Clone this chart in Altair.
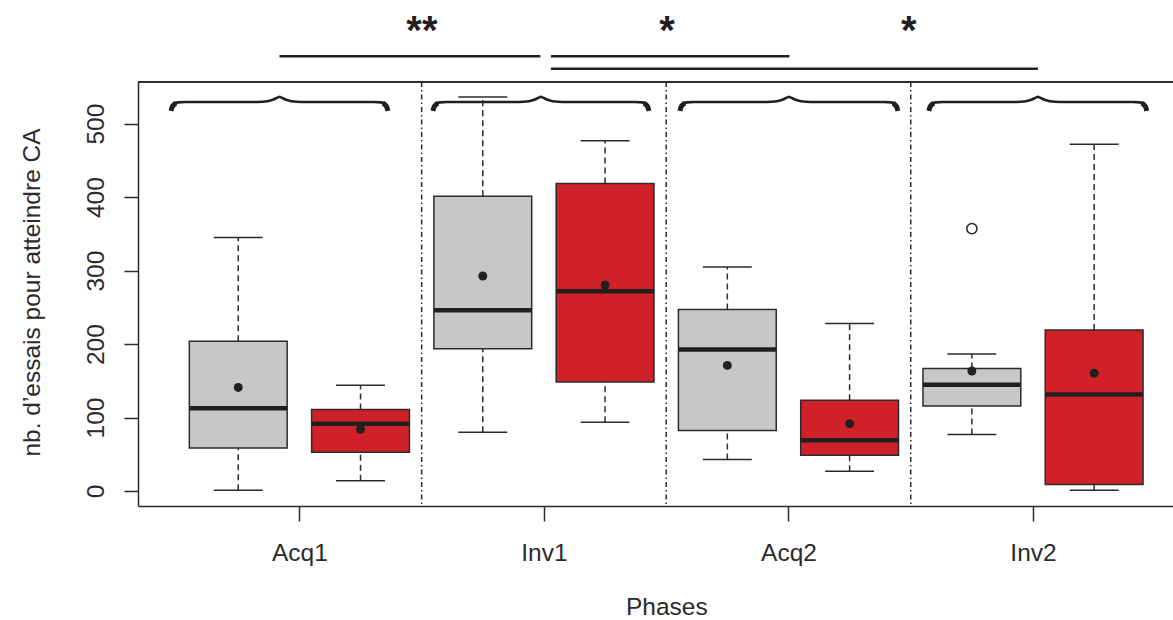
import altair as alt
import pandas as pd

# ---------------- data ----------------
groups = ["Acq1", "Inv1", "Acq2", "Inv2"]
positions = [1, 2, 3, 4, 5, 6, 7, 8]
conditions = ["gris", "rouge", "gris", "rouge", "gris", "rouge", "gris", "rouge"]
lower_whisker = [1.0, 14.0, 80.0, 93.5, 43.0, 27.0, 77.0, 1.0]
q1 = [58.5, 52.7, 193.8, 148.4, 82.2, 48.6, 115.7, 8.7]
medians = [112.6, 91.7, 246.0, 271.8, 192.7, 69.0, 144.8, 131.2]
q3 = [203.8, 110.8, 401.1, 418.4, 247.0, 123.4, 166.6, 219.3]
upper_whisker = [345.0, 143.9, 536.3, 476.9, 305.0, 228.0, 186.5, 471.9]
means = [141.0, 84.0, 292.6, 280.4, 171.0, 91.7, 163.3, 160.2]
outlier_pos = [7]
outlier_val = [357.2]

separators = [2.5, 4.5, 6.5]
group_ticks = [1.5, 3.5, 5.5, 7.5]
y_ticks = [0, 100, 200, 300, 400, 500]

brace_left = [0.450, 2.592, 4.612, 6.648]
brace_tip = [1.337, 3.475, 5.504, 7.540]
brace_right = [2.224, 4.359, 6.395, 8.431]
brace_base = 517.5

sig_start = [1.337, 3.557, 3.557]
sig_end = [3.471, 5.508, 7.540]
sig_level = [591.7, 591.7, 574.9]
star_x = [2.502, 4.506, 6.485]
star_text = ["**", "*", "*"]
star_level = [608.3, 608.3, 608.3]

# ---------------- layout / style ----------------
W, H = 1035, 424
X_DOMAIN = [0.18, 8.645]
Y_DOMAIN = [-20.4, 556.7]
PX_X = W / (X_DOMAIN[1] - X_DOMAIN[0])
PX_Y = H / (Y_DOMAIN[1] - Y_DOMAIN[0])
FONT = "Liberation Sans"
INK = "#2b2b2b"
GREY = "#C6C7C9"
RED = "#D12128"

xscale = alt.Scale(domain=X_DOMAIN, nice=False, zero=False)
yscale = alt.Scale(domain=Y_DOMAIN, nice=False, zero=False)

box_df = pd.DataFrame({
    "pos": positions, "cond": conditions, "lo": lower_whisker, "q1": q1,
    "med": medians, "q3": q3, "hi": upper_whisker, "mean": means,
})
box_df["xl"] = box_df["pos"] - 0.4
box_df["xr"] = box_df["pos"] + 0.4
box_df["sl"] = box_df["pos"] - 0.2
box_df["sr"] = box_df["pos"] + 0.2

out_df = pd.DataFrame({"pos": outlier_pos, "val": outlier_val})
sep_df = pd.DataFrame({"x": separators})
sig_df = pd.DataFrame({"x1": sig_start, "x2": sig_end, "y": sig_level})
star_df = pd.DataFrame({"x": star_x, "t": star_text, "y": star_level})

# brace outline (profile in px: dx from end / tip, dy above base)
end_prof = [(0, 0), (1, 4), (3, 6.8), (7, 8.4), (14, 8.8)]
tip_prof = [(22, 8.8), (12, 9.6), (6, 11.3), (2, 13.2), (0, 14)]
hook_prof = [(0, 0), (1, 3.5), (2.5, 5.6), (5, 7.6)]
brace_rows, hook_rows = [], []
for b, (L, T, R) in enumerate(zip(brace_left, brace_tip, brace_right)):
    pts = [(L + dx / PX_X, dy) for dx, dy in end_prof]
    pts += [(T - dx / PX_X, dy) for dx, dy in tip_prof]
    pts += [(T + dx / PX_X, dy) for dx, dy in reversed(tip_prof[:-1])]
    pts += [(R - dx / PX_X, dy) for dx, dy in reversed(end_prof)]
    for k, (x, dy) in enumerate(pts):
        brace_rows.append({"b": b, "k": k, "x": x, "y": brace_base + dy / PX_Y})
    for side, (x0, sgn) in enumerate([(L, 1), (R, -1)]):
        for k, (dx, dy) in enumerate(hook_prof):
            hook_rows.append({"h": f"{b}-{side}", "k": k if sgn > 0 else -k,
                              "x": x0 + sgn * dx / PX_X, "y": brace_base + dy / PX_Y})
brace_df = pd.DataFrame(brace_rows)
hook_df = pd.DataFrame(hook_rows)

label_expr = "[" + ",".join(f"'{g}'" for g in groups) + "][round((datum.value - 1.5) / 2)]"

x_axis = alt.Axis(
    values=group_ticks, labelExpr=label_expr, title="Phases", grid=False,
    domain=True, domainColor=INK, domainWidth=1.5,
    ticks=True, tickSize=15, tickColor=INK, tickWidth=1.5,
    labelFont=FONT, labelFontSize=24.5, labelColor=INK, labelAlign="center",
    labelBaseline="alphabetic", labelPadding=39.3, labelFlush=False, labelOverlap=False,
    titleFont=FONT, titleFontSize=24.5, titleFontWeight="normal", titleColor=INK,
    titleX=528.3, titleY=108.5, titleAlign="center", titleBaseline="alphabetic",
)
y_axis = alt.Axis(
    values=y_ticks, title="nb. d\u2019essais pour atteindre CA", grid=False,
    domain=True, domainColor=INK, domainWidth=1.5,
    ticks=True, tickSize=14, tickColor=INK, tickWidth=1.5,
    labelFont=FONT, labelFontSize=24.5, labelColor=INK, labelAngle=270,
    labelAlign="center", labelBaseline="alphabetic", labelPadding=21,
    labelFlush=False, labelOverlap=False,
    titleFont=FONT, titleFontSize=24.5, titleFontWeight="normal", titleColor=INK,
    titleAngle=270, titleX=-98.2, titleY=210, titleAlign="center", titleBaseline="alphabetic",
)


def X(field):
    return alt.X(field, scale=xscale, axis=x_axis)


def Y(field):
    return alt.Y(field, scale=yscale, axis=y_axis)


sep = alt.Chart(sep_df).mark_rule(color=INK, strokeWidth=1.5, strokeDash=[5, 3, 1.5, 3]).encode(
    x=X("x:Q"))

whisk_hi = alt.Chart(box_df).mark_rule(color=INK, strokeWidth=1.5, strokeDash=[6, 4]).encode(
    x=X("pos:Q"), y=Y("q3:Q"), y2="hi:Q")
whisk_lo = alt.Chart(box_df).mark_rule(color=INK, strokeWidth=1.5, strokeDash=[6, 4]).encode(
    x=X("pos:Q"), y=Y("lo:Q"), y2="q1:Q")
staple_hi = alt.Chart(box_df).mark_rule(color=INK, strokeWidth=1.5).encode(
    x=X("sl:Q"), x2="sr:Q", y=Y("hi:Q"))
staple_lo = alt.Chart(box_df).mark_rule(color=INK, strokeWidth=1.5).encode(
    x=X("sl:Q"), x2="sr:Q", y=Y("lo:Q"))

boxes = alt.Chart(box_df).mark_rect(stroke=INK, strokeWidth=1.5).encode(
    x=X("xl:Q"), x2="xr:Q", y=Y("q1:Q"), y2="q3:Q",
    fill=alt.Fill("cond:N", scale=alt.Scale(domain=["gris", "rouge"], range=[GREY, RED]), legend=None),
)
med = alt.Chart(box_df).mark_rule(color="#231F20", strokeWidth=4.5).encode(
    x=X("xl:Q"), x2="xr:Q", y=Y("med:Q"))
mean_pts = alt.Chart(box_df).mark_point(filled=True, color="#231F20", size=80, opacity=1).encode(
    x=X("pos:Q"), y=Y("mean:Q"))
outl = alt.Chart(out_df).mark_point(filled=False, color=INK, size=105, strokeWidth=1.6, opacity=1).encode(
    x=X("pos:Q"), y=Y("val:Q"))

braces = alt.Chart(brace_df).mark_line(color="#231F20", strokeWidth=2.6, interpolate="monotone").encode(
    x=X("x:Q"), y=Y("y:Q"), detail="b:N", order="k:Q")
hooks = alt.Chart(hook_df).mark_line(color="#231F20", strokeWidth=5, interpolate="monotone", strokeCap="butt").encode(
    x=X("x:Q"), y=Y("y:Q"), detail="h:N", order="k:Q")

sig = alt.Chart(sig_df).mark_rule(color="#231F20", strokeWidth=2.5).encode(
    x=X("x1:Q"), x2="x2:Q", y=Y("y:Q"))
stars = alt.Chart(star_df).mark_text(font=FONT, fontSize=40, fontWeight="bold", color="#231F20",
                                     align="center", baseline="alphabetic").encode(
    x=X("x:Q"), y=Y("y:Q"), text="t:N")

top_border = alt.Chart(sep_df).mark_rule(color=INK, strokeWidth=1.5).encode(
    x=alt.value(0), x2=alt.value(W), y=alt.value(0))

chart = alt.layer(
    boxes, sep, whisk_hi, whisk_lo, staple_hi, staple_lo, med, mean_pts, outl,
    braces, hooks, sig, stars, top_border,
).properties(
    width=W, height=H,
    autosize=alt.AutoSizeParams(type="none"),
    padding={"left": 138, "top": 82, "right": 0, "bottom": 114},
    background="white",
).configure_view(stroke="transparent")

chart.save("out.html", embed_options={"renderer": "svg", "actions": False})
